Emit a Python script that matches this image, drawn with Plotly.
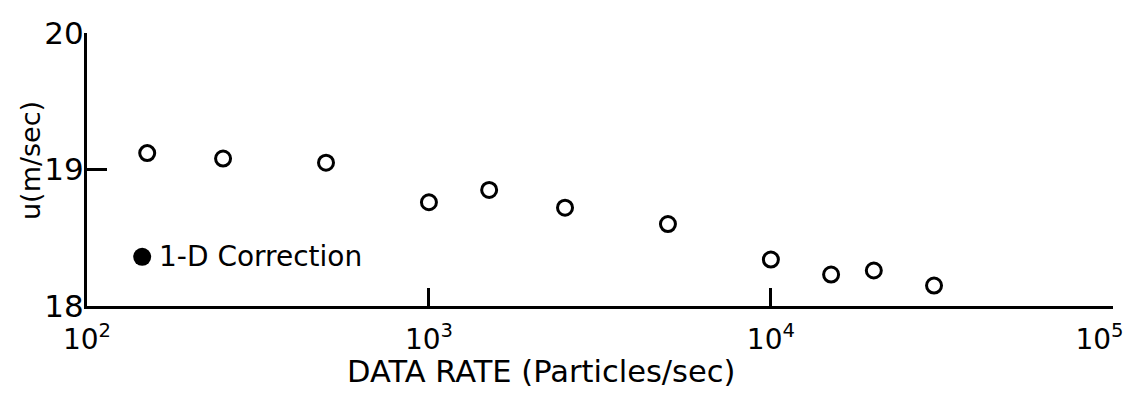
import math
import plotly.graph_objects as go

# Measured mean velocity against LDV data rate
data_rate = [150, 250, 500, 1000, 1500, 2500, 5000, 10000, 15000, 20000, 30000]
u_mean = [19.12, 19.08, 19.05, 18.76, 18.85, 18.72, 18.60, 18.34, 18.23, 18.26, 18.15]

# 1-D correction key marker
key_rate = [145]
key_u = [18.36]
key_label = "1-D Correction"

x_tickvals = [100, 1000, 10000, 100000]
x_ticktext = ["10<sup>2</sup>", "10<sup>3</sup>", "10<sup>4</sup>",
              "10<sup>5</sup>&nbsp;&nbsp;&nbsp;"]
y_tickvals = [18, 19, 20]
y_ticktext = ["18", "19", "20"]

x_title = "DATA RATE (Particles/sec)"
y_title = "u(m/sec)"

FONT = "DejaVu Sans"

fig = go.Figure()

fig.add_trace(go.Scatter(
    x=data_rate, y=u_mean, mode="markers",
    marker=dict(symbol="circle-open", size=15, color="black", line=dict(width=3, color="black")),
    showlegend=False, cliponaxis=False,
))

fig.add_trace(go.Scatter(
    x=key_rate, y=key_u, mode="markers",
    marker=dict(symbol="circle", size=18, color="black"),
    showlegend=False, cliponaxis=False,
))

fig.add_annotation(
    x=math.log10(key_rate[0]), y=key_u[0], xref="x", yref="y",
    text=key_label, showarrow=False, xanchor="left", yanchor="middle",
    xshift=15, font=dict(family=FONT, size=28, color="black"),
)

# Axis titles placed as annotations (pixel positions converted below)
fig.add_annotation(
    x=541, y=371, xref="paper", yref="paper", text=x_title, showarrow=False,
    font=dict(family=FONT, size=30.5, color="black"),
)
fig.add_annotation(
    x=30, y=161, xref="paper", yref="paper", text=y_title, showarrow=False,
    textangle=-90, font=dict(family=FONT, size=27, color="black"),
)

W, H = 1128, 404
L, R, T, B = 87, 15, 33, 98

fig.update_layout(
    width=W, height=H,
    margin=dict(l=L, r=R, t=T, b=B, autoexpand=False),
    paper_bgcolor="white", plot_bgcolor="white",
    font=dict(family=FONT, color="black"),
)

pw, ph = W - L - R, H - T - B
for ann in fig.layout.annotations:
    if ann.xref == "paper":
        ann.x = (ann.x - L) / pw
        ann.y = (H - B - ann.y) / ph
        ann.xanchor = "center"
        ann.yanchor = "middle"

fig.update_xaxes(
    type="log", range=[2, 5.0005], automargin=False,
    tickmode="array", tickvals=x_tickvals, ticktext=x_ticktext,
    tickfont=dict(family=FONT, size=28),
    ticks="inside", ticklen=18, tickwidth=3, tickcolor="black",
    ticklabelstandoff=6, ticklabeloverflow="allow",
    showline=True, linewidth=3, linecolor="black", mirror=False,
    showgrid=False, zeroline=False,
)

fig.update_yaxes(
    range=[18, 20], automargin=False,
    tickmode="array", tickvals=y_tickvals, ticktext=y_ticktext,
    tickfont=dict(family=FONT, size=31),
    ticks="inside", ticklen=20, tickwidth=3, tickcolor="black",
    ticklabelstandoff=-6,
    showline=True, linewidth=3, linecolor="black", mirror=False,
    showgrid=False, zeroline=False,
)

fig.write_html("out.html")
